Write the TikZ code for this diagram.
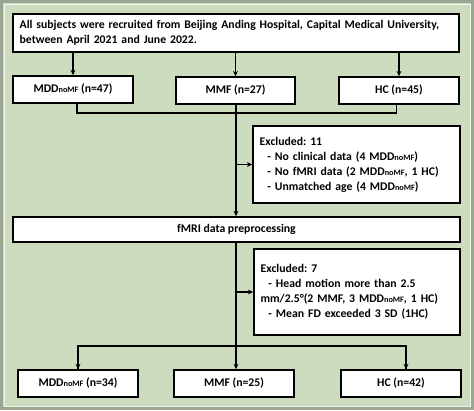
\documentclass[tikz,border=0pt]{standalone}
\usepackage{fontspec}
\setmainfont{Carlito}
\usetikzlibrary{arrows.meta}
\frenchspacing
\definecolor{bggreen}{HTML}{CDDBBF}
\definecolor{bgedge}{HTML}{9AA592}
\newcommand{\nomf}{{\fontsize{6.2}{6.2}\selectfont noMF}}
\tikzset{
  box/.style={draw=black, fill=white, line width=1.1pt, inner sep=0pt, font=\bfseries\fontsize{8.8}{11.25}\selectfont\frenchspacing, align=center},
  leftbox/.style={box, align=left, inner xsep=5pt},
  conn/.style={line width=0.9pt},
  arr/.style={conn, -{Stealth[length=4pt,width=3.6pt]}}
}
\begin{document}
\begin{tikzpicture}[x=0.75pt,y=-0.75pt]
\useasboundingbox (0,0) rectangle (474,410);
\fill[bggreen] (0,0) rectangle (474,410);
\draw[bgedge, line width=2.2pt] (1.5,1.5) rectangle (472.5,408.5);
\draw[white!70!bggreen, line width=0.6pt] (4,4) rectangle (470,406);

\node[leftbox, minimum width=334.5pt, minimum height=28.5pt, text width=324.5pt] (top) at (236,33)
  {All subjects were recruited from Beijing Anding Hospital, Capital Medical University,\\between April 2021 and June 2022.};

\node[box, minimum width=90pt, minimum height=20.25pt] (mdd1) at (73,89.5) {MDD\nomf\ (n=47)};
\node[box, minimum width=89.25pt, minimum height=20.25pt] (mmf1) at (235.5,90.5) {MMF (n=27)};
\node[box, minimum width=90pt, minimum height=20.25pt] (hc1) at (399,90.5) {HC (n=45)};

\node[leftbox, minimum width=155.25pt, minimum height=57.75pt, text width=145.25pt] (ex1) at (356.5,164.5)
  {Excluded: 11\\
  \ \ - No clinical data (4 MDD\nomf)\\
  \ \ - No fMRI data (2 MDD\nomf, 1 HC)\\
  \ \ - Unmatched age (4 MDD\nomf)};

\node[box, minimum width=335.25pt, minimum height=18.75pt] (fmri) at (236.5,229.5) {fMRI data preprocessing};

\node[leftbox, minimum width=154.5pt, minimum height=64.5pt, text width=144.5pt] (ex2) at (357,292)
  {Excluded: 7\\
  \ \ - Head motion more than 2.5\\
  mm/2.5°(2 MMF, 3 MDD\nomf, 1 HC)\\
  \ \ - Mean FD exceeded 3 SD (1HC)};

\node[box, minimum width=90pt, minimum height=20.25pt] (mdd2) at (78,383.5) {MDD\nomf\ (n=34)};
\node[box, minimum width=90pt, minimum height=20.25pt] (mmf2) at (234,383.5) {MMF (n=25)};
\node[box, minimum width=90pt, minimum height=20.25pt] (hc2) at (401,383.5) {HC (n=42)};

\coordinate (m1) at (236,113);
\coordinate (m2) at (236,346);

% top to first row
\draw[arr] (top.south -| mdd1) -- (mdd1.north);
\draw[arr] (top.south -| mmf1) -- (mmf1.north);
\draw[arr] (top.south -| hc1) -- (hc1.north);

% first row merge
\draw[conn] ([xshift=3pt]mdd1.south) |- (m1);
\draw[conn] ([xshift=-2pt]hc1.south) |- (m1);
\draw[conn] (mmf1.south -| m1) -- (m1);
\draw[arr] (m1) -- (m1 |- fmri.north);
\draw[arr] (m1 |- ex1.west) -- (ex1.west);

% fmri down
\draw[conn] (fmri.south -| m1) -- (m2);
\draw[arr] (m1 |- ex2.west) -- (ex2.west);
\draw[arr] (m2) -- (m2 |- mmf2.north);
\draw[conn] (m2) -| (mdd2.north);
\draw[arr] (mdd2.north |- m2) -- (mdd2.north);
\draw[conn] (m2) -| ([xshift=3.75pt]hc2.north);
\draw[arr] ([xshift=3.75pt]hc2.north |- m2) -- ([xshift=3.75pt]hc2.north);
\end{tikzpicture}
\end{document}
